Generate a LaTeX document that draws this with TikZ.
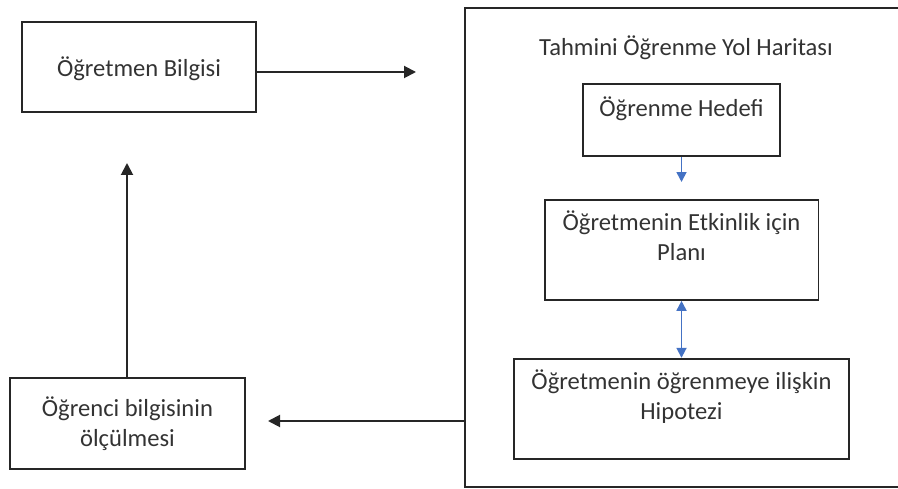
\documentclass[tikz,border=0pt]{standalone}
\usepackage{fontspec}
\setmainfont{Carlito}
\usepackage{tikz}
\usetikzlibrary{positioning, arrows.meta}
\usepackage{xcolor}
\definecolor{arrowblue}{HTML}{4472C4}
\definecolor{textgray}{HTML}{333333}

\begin{document}
\begin{tikzpicture}[x=0.02cm, y=-0.02cm]
        % Styles
        \tikzset{
          plainbox/.style={
            draw=black!85,
            line width=1.1pt,
            inner sep=0pt,
            align=center,
            text=textgray,
            font=\fontsize{14pt}{17pt}\selectfont
          },
          flow/.style={
            draw=black!85,
            line width=1.1pt,
            -{Triangle[length=0.24cm,width=0.24cm]}
          },
          blueflow/.style={
            draw=arrowblue,
            line width=1pt,
            -{Triangle[length=0.2cm,width=0.2cm]}
          },
          bluetwoway/.style={
            blueflow,
            {Triangle[length=0.2cm,width=0.2cm]}-{Triangle[length=0.2cm,width=0.2cm]}
          }
        }

        % frame of the picture
        \useasboundingbox (0,0) rectangle (898,489);

        % outer road map box (open at the right edge of the picture)
        \node[minimum width=8.66cm, minimum height=9.58cm, inner sep=0pt] (yol) at (681.5,247.5) {};
        \draw[black!85, line width=1.1pt]
          (yol.north east) -- (yol.north west) -- (yol.south west) -- (yol.south east);
        \node[font=\fontsize{14pt}{17pt}\selectfont, text=textgray] (baslik) at (686,48) {Tahmini Öğrenme Yol Haritası};

        % inner column
        \node[plainbox, minimum width=3.94cm, text height=0.66cm, text depth=0.78cm,
              anchor=north] (hedef) at (681.5,83) {Öğrenme Hedefi};
        \node[plainbox, minimum width=5.48cm, text height=1.22cm, text depth=0.78cm,
              below=0.84cm of hedef] (plan) {Öğretmenin Etkinlik için\\Planı};
        \node[plainbox, minimum width=6.7cm, text height=1.22cm, text depth=0.78cm,
              below=1.14cm of plan] (hipotez) {Öğretmenin öğrenmeye ilişkin\\Hipotezi};

        % left column
        \node[plainbox, minimum width=4.68cm, text height=1.1cm, text depth=0.7cm,
              anchor=north] (bilgi) at (139,21) {Öğretmen Bilgisi};
        \node[plainbox, minimum width=4.7cm, minimum height=1.82cm] (olcum) at (127.5,423.5) {Öğrenci bilgisinin\\ölçülmesi};

        % free arrow ends
        \coordinate (sagUc) at (416,72);
        \coordinate (ustUc) at (127,163);
        \coordinate (solUc) at (268,421);
        \coordinate (maviUc) at (681.5,182);

        % black arrows
        \draw[flow] (bilgi.east |- sagUc) -- (sagUc);
        \draw[flow] (olcum.north -| ustUc) -- (ustUc);
        \draw[flow] (yol.west |- solUc) -- (solUc);

        % blue arrows
        \draw[blueflow] (hedef.south) -- (maviUc);
        \draw[bluetwoway] (plan.south) -- (hipotez.north);
\end{tikzpicture}
\end{document}
